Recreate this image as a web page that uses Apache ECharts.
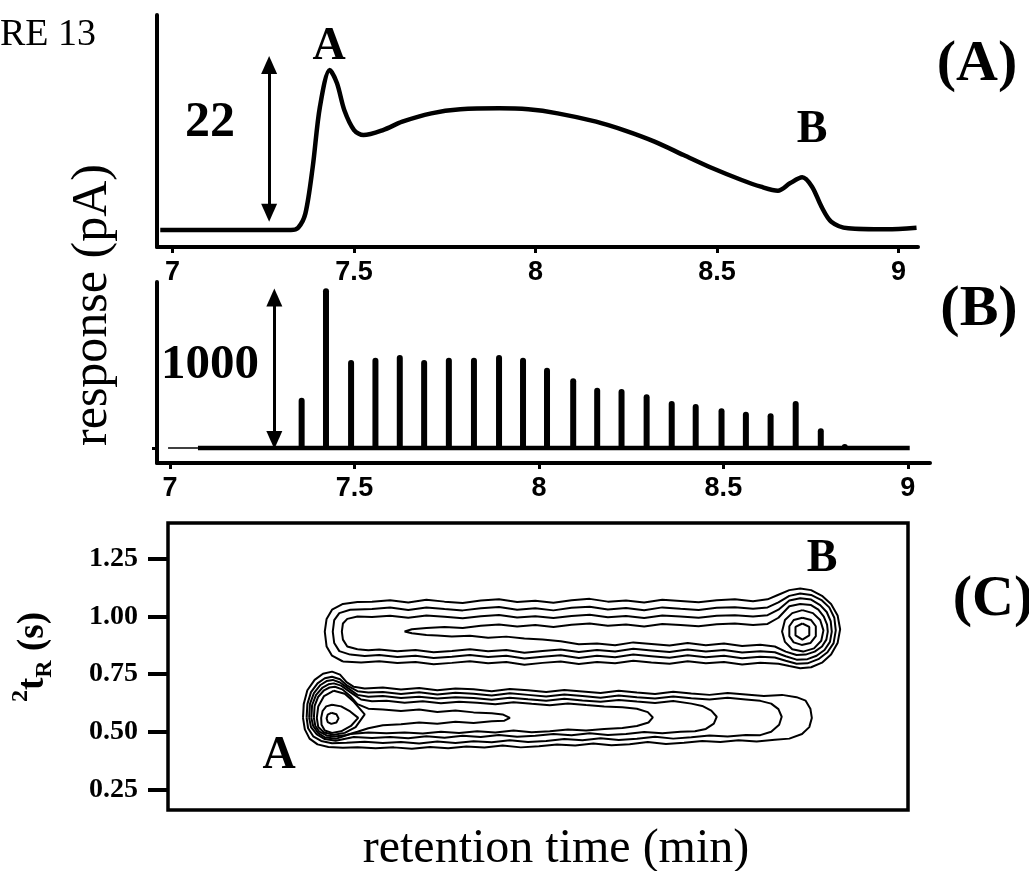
<!DOCTYPE html>
<html><head><meta charset="utf-8">
<script src="https://cdn.jsdelivr.net/npm/echarts@6/dist/echarts.min.js"></script>
<style>html,body{margin:0;padding:0;background:#fff}#c{width:1029px;height:871px}</style>
</head><body><div id="c"></div>
<script>
// ---- Panel (A): 1D GC trace (retention time in min, response in pA) ----
const traceTimes = [6.966,7.006,7.326,7.346,7.366,7.386,7.406,7.433,7.453,7.473,7.500,7.526,7.580,7.633,7.713,7.793,7.900,7.980,8.061,8.167,8.247,8.328,8.408,8.488,8.568,8.621,8.668,8.701,8.735,8.762,8.788,8.815,8.862,8.968,9.050];
const tracePA    = [0.00,0.00,0.00,0.29,2.12,7.98,15.68,20.36,18.66,15.27,12.72,12.08,12.72,13.78,14.84,15.35,15.48,15.35,14.84,13.78,12.64,11.24,9.54,7.85,6.36,5.51,5.00,5.94,6.70,5.51,2.97,1.06,0.22,0.09,0.30];
const arrowA = [7.266, 2.2, 21.0];      // time, low value, high value of the "22" scale arrow

// ---- Panel (B): modulated trace ----
const spikeTimes   = [7.357,7.423,7.491,7.557,7.623,7.689,7.756,7.824,7.892,7.957,8.022,8.093,8.158,8.224,8.292,8.360,8.425,8.495,8.561,8.628,8.696,8.764,8.829];
const spikeHeights = [314,998,550,564,581,550,564,564,581,564,502,436,377,369,336,294,275,248,227,217,294,123,25];
const baseThinTimes  = [6.995, 7.076];
const baseThickTimes = [7.076, 9.005];
const arrowB = [7.283, 50, 940];

// ---- tick values ----
const xTicks  = [7, 7.5, 8, 8.5, 9];
const tRTicks = [0.25, 0.50, 0.75, 1.00, 1.25];

// ---- Panel (C): contour lines, [time (min), 2tR (s)] ----
const contourB1 = [[7.470,0.805],[7.440,0.830],[7.425,0.870],[7.420,0.935],[7.425,0.990],[7.440,1.030],[7.470,1.055],[7.510,1.063],
 [7.55,1.065],[7.60,1.071],[7.65,1.061],[7.70,1.073],[7.75,1.065],[7.80,1.059],[7.85,1.070],[7.90,1.075],[7.95,1.063],[8.00,1.069],[8.05,1.060],[8.10,1.071],[8.15,1.077],[8.20,1.065],[8.25,1.070],[8.30,1.061],[8.35,1.073],[8.40,1.068],[8.45,1.062],[8.50,1.071],[8.55,1.075],[8.60,1.067],[8.64,1.075],
 [8.67,1.095],[8.70,1.115],[8.73,1.122],[8.76,1.115],[8.79,1.090],[8.815,1.055],[8.833,1.005],[8.840,0.945],[8.833,0.885],[8.815,0.835],[8.79,0.800],[8.76,0.780],[8.73,0.776],[8.70,0.785],[8.67,0.795],
 [8.62,0.800],[8.57,0.792],[8.52,0.803],[8.47,0.797],[8.42,0.806],[8.37,0.795],[8.32,0.801],[8.27,0.808],[8.22,0.797],[8.17,0.803],[8.12,0.794],[8.07,0.805],[8.02,0.799],[7.97,0.791],[7.92,0.803],[7.87,0.797],[7.82,0.806],[7.77,0.799],[7.72,0.793],[7.67,0.803],[7.62,0.798],[7.57,0.806],[7.52,0.801]];
const contourB2 = [[7.490,0.835],[7.460,0.850],[7.446,0.885],[7.442,0.935],[7.446,0.985],[7.460,1.015],[7.490,1.030],
 [7.55,1.033],[7.60,1.039],[7.65,1.029],[7.70,1.040],[7.75,1.033],[7.80,1.027],[7.85,1.036],[7.90,1.042],[7.95,1.030],[8.00,1.036],[8.05,1.027],[8.10,1.038],[8.15,1.043],[8.20,1.031],[8.25,1.037],[8.30,1.028],[8.35,1.040],[8.40,1.034],[8.45,1.029],[8.50,1.038],[8.55,1.041],[8.60,1.034],[8.64,1.040],
 [8.67,1.062],[8.70,1.090],[8.73,1.100],[8.76,1.094],[8.79,1.070],[8.810,1.040],[8.824,0.995],[8.828,0.940],[8.822,0.885],[8.805,0.845],[8.78,0.815],[8.75,0.797],[8.72,0.795],[8.69,0.808],[8.66,0.822],
 [8.62,0.826],[8.57,0.819],[8.52,0.830],[8.47,0.823],[8.42,0.832],[8.37,0.821],[8.32,0.828],[8.27,0.835],[8.22,0.823],[8.17,0.830],[8.12,0.820],[8.07,0.832],[8.02,0.826],[7.97,0.818],[7.92,0.830],[7.87,0.824],[7.82,0.833],[7.77,0.826],[7.72,0.820],[7.67,0.830],[7.62,0.825],[7.57,0.833],[7.53,0.829]];
const contourB3 = [[7.510,0.858],[7.482,0.870],[7.470,0.900],[7.467,0.935],[7.470,0.970],[7.482,0.990],[7.510,1.000],
 [7.55,0.998],[7.60,1.004],[7.65,0.995],[7.70,1.005],[7.75,0.999],[7.80,0.993],[7.85,1.002],[7.90,1.007],[7.95,0.996],[8.00,1.002],[8.05,0.994],[8.10,1.003],[8.15,1.008],[8.20,0.997],[8.25,1.003],[8.30,0.994],[8.35,1.005],[8.40,1.000],[8.45,0.995],[8.50,1.004],[8.55,1.006],[8.60,1.000],[8.64,1.006],
 [8.67,1.030],[8.70,1.070],[8.73,1.080],[8.76,1.074],[8.785,1.050],[8.803,1.020],[8.814,0.980],[8.817,0.935],[8.812,0.890],[8.797,0.855],[8.775,0.830],[8.75,0.815],[8.72,0.813],[8.69,0.828],[8.66,0.845],
 [8.62,0.850],[8.57,0.844],[8.52,0.855],[8.47,0.848],[8.42,0.857],[8.37,0.846],[8.32,0.853],[8.27,0.860],[8.22,0.848],[8.17,0.855],[8.12,0.846],[8.07,0.857],[8.02,0.851],[7.97,0.843],[7.92,0.855],[7.87,0.849],[7.82,0.858],[7.77,0.851],[7.72,0.845],[7.67,0.855],[7.62,0.850],[7.57,0.857],[7.54,0.854]];
const contourB4 = [[7.70,0.920],[7.660,0.928],[7.640,0.935],[7.660,0.945],[7.70,0.950],
 [7.75,0.955],[7.80,0.950],[7.85,0.960],[7.90,0.966],[7.95,0.957],[8.00,0.963],[8.05,0.955],[8.10,0.965],[8.15,0.970],[8.20,0.960],[8.25,0.966],[8.30,0.957],[8.35,0.968],[8.40,0.963],[8.45,0.958],[8.50,0.967],[8.55,0.970],[8.60,0.963],[8.64,0.968],
 [8.67,0.995],[8.70,1.045],[8.73,1.055],[8.76,1.050],[8.78,1.030],[8.795,1.000],[8.804,0.965],[8.806,0.935],[8.802,0.900],[8.790,0.870],[8.770,0.848],[8.745,0.835],[8.72,0.833],[8.69,0.848],[8.66,0.870],
 [8.62,0.878],[8.57,0.872],[8.52,0.883],[8.47,0.876],[8.42,0.885],[8.37,0.874],[8.32,0.881],[8.27,0.888],[8.22,0.876],[8.17,0.883],[8.12,0.880],[8.07,0.893],[8.02,0.900],[7.97,0.905],[7.92,0.913],[7.87,0.908],[7.82,0.917],[7.77,0.914],[7.73,0.918]];
const contourB5 = [[8.736,1.028],[8.765,1.015],[8.785,0.985],[8.794,0.940],[8.788,0.895],[8.768,0.862],[8.738,0.848],[8.708,0.858],[8.688,0.890],[8.680,0.935],[8.688,0.985],[8.708,1.015]];
const contourB6 = [[8.736,0.995],[8.760,0.985],[8.773,0.958],[8.773,0.915],[8.758,0.885],[8.734,0.877],[8.712,0.888],[8.700,0.915],[8.700,0.958],[8.712,0.985]];
const contourB7 = [[8.736,0.970],[8.755,0.955],[8.755,0.918],[8.736,0.900],[8.717,0.918],[8.717,0.955]];

const contourA1 = [[7.360,0.560],[7.362,0.620],[7.372,0.680],[7.392,0.725],[7.415,0.752],[7.440,0.761],[7.462,0.748],[7.480,0.715],[7.50,0.695],[7.53,0.688],
 [7.58,0.692],[7.63,0.683],[7.68,0.690],[7.73,0.680],[7.78,0.688],[7.83,0.684],[7.88,0.676],[7.93,0.686],[7.98,0.680],[8.03,0.672],[8.08,0.681],[8.13,0.675],[8.18,0.668],[8.23,0.678],[8.28,0.670],[8.33,0.664],[8.38,0.674],[8.43,0.666],[8.48,0.660],[8.53,0.668],[8.58,0.662],[8.63,0.655],[8.68,0.660],[8.72,0.650],
 [8.745,0.635],[8.758,0.600],[8.762,0.560],[8.755,0.520],[8.735,0.490],[8.70,0.470],
 [8.66,0.465],[8.61,0.458],[8.56,0.463],[8.51,0.455],[8.46,0.460],[8.41,0.452],[8.36,0.447],[8.31,0.455],[8.26,0.446],[8.21,0.441],[8.16,0.449],[8.11,0.440],[8.06,0.445],[8.01,0.437],[7.96,0.432],[7.91,0.440],[7.86,0.431],[7.81,0.436],[7.76,0.428],[7.71,0.434],[7.66,0.426],[7.61,0.432],[7.56,0.428],[7.51,0.433],[7.47,0.430],[7.43,0.434],[7.40,0.445],[7.378,0.470],[7.365,0.510]];
const contourA2 = [[7.370,0.560],[7.372,0.620],[7.382,0.672],[7.400,0.710],[7.420,0.732],[7.440,0.739],[7.462,0.728],[7.482,0.700],[7.51,0.676],[7.54,0.670],
 [7.58,0.673],[7.63,0.664],[7.68,0.671],[7.73,0.662],[7.78,0.669],[7.83,0.665],[7.88,0.657],[7.93,0.667],[7.98,0.660],[8.03,0.653],[8.08,0.662],[8.13,0.655],[8.18,0.648],[8.23,0.657],[8.28,0.650],[8.33,0.644],[8.38,0.653],[8.43,0.645],[8.48,0.640],[8.53,0.647],[8.58,0.640],[8.62,0.634],
 [8.650,0.622],[8.670,0.598],[8.679,0.565],[8.672,0.530],[8.650,0.500],[8.620,0.485],
 [8.58,0.486],[8.53,0.479],[8.48,0.484],[8.43,0.476],[8.38,0.470],[8.33,0.478],[8.28,0.469],[8.23,0.464],[8.18,0.472],[8.13,0.463],[8.08,0.468],[8.03,0.460],[7.98,0.455],[7.93,0.463],[7.88,0.454],[7.83,0.459],[7.78,0.451],[7.73,0.457],[7.68,0.449],[7.63,0.455],[7.58,0.451],[7.53,0.456],[7.48,0.452],[7.44,0.450],[7.41,0.460],[7.388,0.480],[7.374,0.515]];
const contourA3 = [[7.377,0.560],[7.379,0.620],[7.390,0.668],[7.408,0.703],[7.425,0.720],[7.442,0.725],[7.462,0.714],[7.485,0.688],[7.51,0.660],[7.54,0.652],
 [7.58,0.655],[7.63,0.646],[7.68,0.652],[7.73,0.644],[7.78,0.650],[7.83,0.646],[7.88,0.639],[7.93,0.648],[7.98,0.641],[8.03,0.635],[8.08,0.643],[8.13,0.636],[8.18,0.630],[8.23,0.638],[8.28,0.631],[8.33,0.625],[8.38,0.633],[8.43,0.622],
 [8.46,0.612],[8.485,0.592],[8.500,0.565],[8.492,0.535],[8.470,0.512],[8.44,0.502],
 [8.40,0.500],[8.35,0.493],[8.30,0.499],[8.25,0.490],[8.20,0.486],[8.15,0.493],[8.10,0.485],[8.05,0.490],[8.00,0.482],[7.95,0.478],[7.90,0.486],[7.85,0.477],[7.80,0.482],[7.75,0.474],[7.70,0.480],[7.65,0.472],[7.60,0.477],[7.55,0.473],[7.50,0.477],[7.45,0.461],[7.42,0.468],[7.398,0.488],[7.382,0.520]];
const contourA4 = [[7.383,0.560],[7.385,0.615],[7.396,0.660],[7.414,0.692],[7.430,0.706],[7.445,0.710],[7.465,0.700],[7.49,0.672],[7.52,0.640],[7.55,0.632],
 [7.59,0.634],[7.64,0.626],[7.69,0.632],[7.74,0.624],[7.79,0.630],[7.84,0.626],[7.89,0.619],[7.94,0.628],[7.99,0.621],[8.04,0.615],[8.09,0.623],[8.14,0.616],[8.19,0.610],[8.24,0.606],
 [8.28,0.600],[8.310,0.585],[8.324,0.562],[8.312,0.540],[8.28,0.525],[8.24,0.516],
 [8.19,0.512],[8.14,0.505],[8.09,0.510],[8.04,0.502],[7.99,0.498],[7.94,0.505],[7.89,0.497],[7.84,0.502],[7.79,0.494],[7.74,0.500],[7.69,0.492],[7.64,0.497],[7.59,0.493],[7.54,0.497],[7.49,0.490],[7.45,0.469],[7.42,0.476],[7.402,0.494],[7.388,0.525]];
const contourA5 = [[7.390,0.560],[7.392,0.612],[7.402,0.652],[7.418,0.680],[7.433,0.692],[7.448,0.695],[7.468,0.684],[7.49,0.655],[7.51,0.620],[7.54,0.600],
 [7.58,0.597],[7.63,0.590],[7.68,0.596],[7.73,0.586],[7.78,0.592],[7.83,0.584],[7.88,0.580],
 [7.91,0.575],[7.930,0.560],[7.915,0.548],[7.88,0.545],
 [7.83,0.538],[7.78,0.543],[7.73,0.535],[7.68,0.540],[7.63,0.532],[7.58,0.528],[7.54,0.515],[7.51,0.500],[7.48,0.486],[7.448,0.479],[7.425,0.484],[7.405,0.500],[7.394,0.525]];
const contourA6 = [[7.445,0.678],[7.475,0.665],[7.50,0.630],[7.53,0.575],[7.505,0.520],[7.475,0.495],[7.445,0.487],[7.418,0.497],[7.402,0.520],[7.398,0.560],[7.402,0.610],[7.418,0.655]];
const contourA7 = [[7.440,0.617],[7.465,0.610],[7.490,0.588],[7.512,0.560],[7.492,0.525],[7.465,0.502],[7.440,0.495],[7.420,0.505],[7.411,0.530],[7.410,0.560],[7.414,0.590],[7.424,0.610]];
const contourA8 = [[7.438,0.582],[7.452,0.576],[7.458,0.558],[7.452,0.540],[7.438,0.534],[7.428,0.542],[7.425,0.558],[7.428,0.574]];

const contours = [contourB1,contourB2,contourB3,contourB4,contourB5,contourB6,contourB7,
                  contourA1,contourA2,contourA3,contourA4,contourA5,contourA6,contourA7,contourA8];

// ---------------------------------------------------------------
const chart = echarts.init(document.getElementById('c'), null, {renderer:'canvas'});
const SERIF = '"Liberation Serif", "Times New Roman", serif';
const SANS = '"Liberation Sans", Arial, sans-serif';
const BLACK = '#000';

const zip = (a, b) => a.map((v, i) => [v, b[i]]);
const closeLoop = pts => pts.concat([pts[0]]);

function timeAxis(gi, min, max) {
  return {
    gridIndex: gi, type: 'value', min: min, max: max,
    axisLine: {show: true, onZero: false, lineStyle: {color: BLACK, width: 4}},
    axisTick: {show: true, customValues: xTicks, length: 6, lineStyle: {color: BLACK, width: 3}},
    axisLabel: {show: true, customValues: xTicks, margin: 12, color: BLACK,
      fontFamily: SANS, fontWeight: 'bold', fontSize: 27},
    splitLine: {show: false}
  };
}

const arrowStyle = (t, lo, hi) => ({
  silent: true, symbol: ['triangle', 'triangle'], symbolSize: [16, 18],
  label: {show: false}, emphasis: {disabled: true},
  lineStyle: {color: BLACK, width: 3, type: 'solid'},
  data: [[{coord: [t, lo]}, {coord: [t, hi]}]]
});

const series = [];
series.push({
  type: 'line', xAxisIndex: 0, yAxisIndex: 0, data: zip(traceTimes, tracePA),
  smooth: 0.3, showSymbol: false, symbol: 'none', lineStyle: {color: BLACK, width: 4.5},
  markLine: arrowStyle(arrowA[0], arrowA[1], arrowA[2])
});
series.push({
  type: 'line', xAxisIndex: 1, yAxisIndex: 1, data: baseThinTimes.map(t => [t, 0]),
  showSymbol: false, symbol: 'none', lineStyle: {color: BLACK, width: 1.5}
});
series.push({
  type: 'line', xAxisIndex: 1, yAxisIndex: 1, data: baseThickTimes.map(t => [t, 0]),
  showSymbol: false, symbol: 'none', lineStyle: {color: BLACK, width: 4.5},
  markLine: arrowStyle(arrowB[0], arrowB[1], arrowB[2])
});
series.push({
  type: 'bar', xAxisIndex: 1, yAxisIndex: 1, data: zip(spikeTimes, spikeHeights),
  barWidth: 6, itemStyle: {color: BLACK, borderRadius: [3, 3, 0, 0]}
});
contours.forEach(c => series.push({
  type: 'line', xAxisIndex: 2, yAxisIndex: 2, data: closeLoop(c),
  showSymbol: false, symbol: 'none', lineStyle: {color: BLACK, width: 2}, z: 3
}));

const txt = (x, y, text, size, bold, extra) => Object.assign({
  type: 'text', x: x, y: y,
  style: {text: text, fill: BLACK, font: (bold ? 'bold ' : '') + size + 'px ' + SERIF,
    textAlign: 'center', textVerticalAlign: 'middle'}
}, extra || {});

const option = {
  animation: false,
  backgroundColor: '#fff',
  grid: [
    {left: 157, top: 15, width: 761, height: 232},
    {left: 157, top: 282, width: 773, height: 181},
    {left: 168, top: 523, width: 740, height: 287, show: true, borderColor: BLACK, borderWidth: 3.5}
  ],
  xAxis: [
    timeAxis(0, 6.957, 9.054),
    timeAxis(1, 6.965, 9.060),
    {gridIndex: 2, type: 'value', min: 6.988, max: 9.027, show: false}
  ],
  yAxis: [
    {gridIndex: 0, type: 'value', min: -2.16, max: 27.35,
     axisLine: {show: true, onZero: false, lineStyle: {color: BLACK, width: 4}},
     axisTick: {show: false}, axisLabel: {show: false}, splitLine: {show: false}},
    {gridIndex: 1, type: 'value', min: -94, max: 1037.5,
     axisLine: {show: true, onZero: false, lineStyle: {color: BLACK, width: 4}},
     axisTick: {show: true, customValues: [0], length: 5, lineStyle: {color: BLACK, width: 3}},
     axisLabel: {show: false}, splitLine: {show: false}},
    {gridIndex: 2, type: 'value', min: 0.16, max: 1.4065,
     axisLine: {show: false},
     axisTick: {show: true, customValues: tRTicks, length: 20, lineStyle: {color: BLACK, width: 4}},
     axisLabel: {show: true, customValues: tRTicks, formatter: v => v.toFixed(2), margin: 30,
       color: BLACK, fontFamily: SERIF, fontWeight: 'bold', fontSize: 28},
     splitLine: {show: false}}
  ],
  series: series,
  graphic: [
    {type: 'text', x: 0, y: 35, style: {text: 'RE 13', fill: BLACK, font: '38px ' + SERIF, textAlign: 'left', textVerticalAlign: 'middle'}},
    txt(977, 65, '(A)', 58, true),
    txt(979, 310, '(B)', 58, true),
    txt(993, 600, '(C)', 58, true),
    txt(329, 47, 'A', 46, true),
    txt(812, 130, 'B', 46, true),
    txt(279, 756, 'A', 46, true),
    txt(822, 559, 'B', 46, true),
    txt(210, 123, '22', 50, true),
    txt(210, 365, '1000', 49, true),
    txt(93, 305, 'response (pA)', 50, false, {rotation: Math.PI / 2}),
    txt(556, 849, 'retention time (min)', 48, false),
    {type: 'text', x: 33, y: 657, rotation: Math.PI / 2,
     style: {text: '{sup|2}{t|t}{sub|R}{t| (s)}', fill: BLACK, textAlign: 'center', textVerticalAlign: 'middle',
       rich: {
         t: {font: 'bold 37px ' + SERIF, fill: BLACK, verticalAlign: 'middle', lineHeight: 48},
         sup: {font: 'bold 24px ' + SERIF, fill: BLACK, verticalAlign: 'top', lineHeight: 48},
         sub: {font: 'bold 24px ' + SERIF, fill: BLACK, verticalAlign: 'bottom', lineHeight: 48}
       }}}
  ]
};
chart.setOption(option);
</script>
</body></html>
